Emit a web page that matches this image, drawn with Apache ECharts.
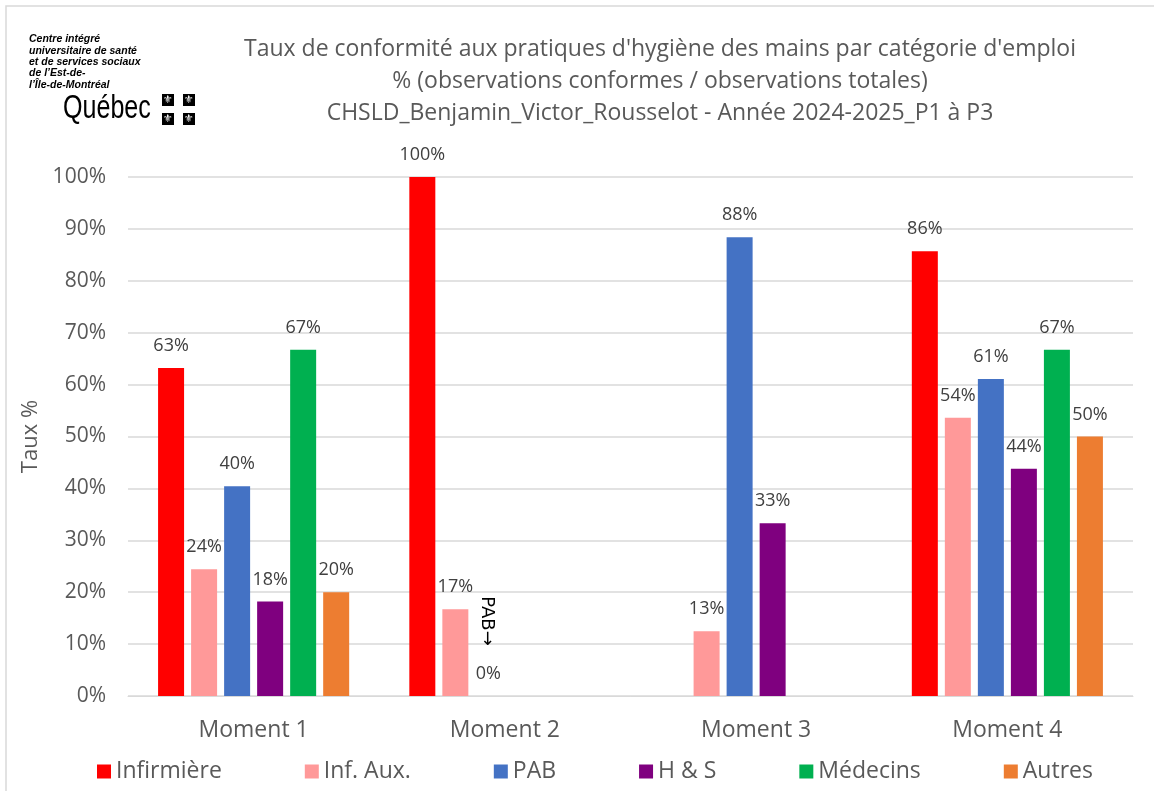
<!DOCTYPE html>
<html>
<head>
<meta charset="utf-8">
<script src="https://cdn.jsdelivr.net/npm/echarts@6/dist/echarts.min.js"></script>
<style>
html,body{margin:0;padding:0;background:#fff;}
#chart{width:1154px;height:791px;}
</style>
</head>
<body>
<div id="chart"></div>
<script>
var categories = ['Moment 1', 'Moment 2', 'Moment 3', 'Moment 4'];
var seriesNames = ['Infirmière', 'Inf. Aux.', 'PAB', 'H & S', 'Médecins', 'Autres'];
var infirmiere = [63.2, 100, null, 85.7];
var infAux = [24.4, 16.7, 12.5, 53.6];
var pab = [40.4, 0, 88.4, 61.1];
var hs = [18.2, null, 33.3, 43.8];
var medecins = [66.7, null, null, 66.7];
var autres = [20, null, null, 50];
var yTicks = [0, 10, 20, 30, 40, 50, 60, 70, 80, 90, 100];
var colors = ['#FF0000', '#FF9999', '#4472C4', '#7F007F', '#00B050', '#ED7D31'];
var titleLines = [
  "Taux de conformité aux pratiques d'hygiène des mains par catégorie d'emploi",
  "% (observations conformes / observations totales)",
  "CHSLD_Benjamin_Victor_Rousselot - Année 2024-2025_P1 à P3"
];
var logoLines = ['Centre intégré', 'universitaire de santé', 'et de services sociaux', 'de l\u2019Est-de-', 'l\u2019Île-de-Montréal'];

var FONT = 'Open Sans';
var allData = [infirmiere, infAux, pab, hs, medecins, autres];

var chart = echarts.init(document.getElementById('chart'), null, {renderer: 'canvas'});

var series = allData.map(function (d, i) {
  return {
    name: seriesNames[i],
    type: 'bar',
    data: d,
    barWidth: 26,
    barGap: '27%',
    itemStyle: {color: colors[i]},
    label: {
      show: true,
      position: 'top',
      distance: 13,
      color: '#404040',
      fontFamily: FONT,
      fontSize: 18,
      formatter: function (p) { return Math.round(p.value) + '%'; }
    }
  };
});

var logoGraphics = [];
logoLines.forEach(function (t, i) {
  logoGraphics.push({
    type: 'text', left: 29, top: 34 + i * 11.3,
    style: {text: t, font: 'italic bold 10.5px "Liberation Sans"', fill: '#000'}
  });
});
logoGraphics.push({
  type: 'text', x: 63, y: 125, scaleX: 0.76,
  style: {text: 'Québec', font: '33px "Liberation Sans"', fill: '#000', textVerticalAlign: 'bottom'}
});
[[162, 94], [183, 94], [162, 113], [183, 113]].forEach(function (p) {
  logoGraphics.push({type: 'rect', shape: {x: p[0], y: p[1], width: 12, height: 12}, style: {fill: '#000'}});
  logoGraphics.push({type: 'text', x: p[0] + 6, y: p[1] + 6,
    style: {text: '\u269C', font: '11px "DejaVu Sans"', fill: '#fff', textAlign: 'center', textVerticalAlign: 'middle'}});
});

var option = {
  animation: false,
  backgroundColor: '#fff',
  color: colors,
  title: {
    text: titleLines.join('\n'),
    left: 655,
    textAlign: 'center',
    top: 28,
    textStyle: {fontFamily: FONT, fontSize: 23, fontWeight: 'normal', color: '#595959', lineHeight: 32}
  },
  grid: {left: 128, right: 21, top: 177, bottom: 95, containLabel: false},
  legend: {
    top: 755,
    left: 92,
    itemWidth: 14,
    itemHeight: 14,
    itemGap: 83,
    icon: 'rect',
    textStyle: {fontFamily: FONT, fontSize: 23, color: '#595959', padding: [0, 0, 0, 0]},
    data: seriesNames
  },
  xAxis: {
    type: 'category',
    data: categories,
    axisTick: {show: false},
    axisLine: {lineStyle: {color: '#D9D9D9', width: 1}},
    axisLabel: {fontFamily: FONT, fontSize: 23, color: '#595959', margin: 23}
  },
  yAxis: {
    type: 'value',
    min: yTicks[0],
    max: yTicks[yTicks.length - 1],
    interval: yTicks[1] - yTicks[0],
    name: 'Taux %',
    nameLocation: 'middle',
    nameGap: 86,
    nameTextStyle: {fontFamily: FONT, fontSize: 22, color: '#595959'},
    axisLine: {show: false},
    axisTick: {show: false},
    splitLine: {lineStyle: {color: '#D9D9D9', width: 1.5}},
    axisLabel: {fontFamily: FONT, fontSize: 21, color: '#595959', margin: 22, formatter: '{value}%'}
  },
  graphic: [
    {type: 'polyline', shape: {points: [[6, 800], [6, 6], [1160, 6]]}, style: {stroke: '#D9D9D9', lineWidth: 1.5, fill: null}}
  ].concat(logoGraphics),
  series: series
};
chart.setOption(option);

// "PAB→" annotation placed next to the PAB bar of Moment 2, from the bar's own layout
var pabIdx = seriesNames.indexOf('PAB');
var m2 = categories.indexOf('Moment 2');
var lay = chart.getModel().getSeriesByIndex(pabIdx).getData().getItemLayout(m2);
if (lay) {
  var cx = lay.x + lay.width / 2;
  chart.setOption({
    graphic: option.graphic.concat([{
      type: 'text', x: cx - 2, y: lay.y - 75, rotation: -Math.PI / 2,
      style: {text: 'PAB\u2192', font: '18px "DejaVu Sans"', fill: '#000', textAlign: 'center', textVerticalAlign: 'middle'}
    }])
  }, {replaceMerge: ['graphic']});
}
</script>
</body>
</html>
